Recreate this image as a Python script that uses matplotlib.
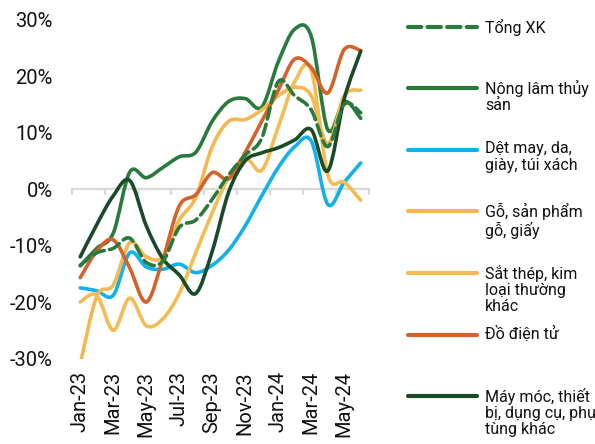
import numpy as np
import matplotlib.pyplot as plt
from matplotlib.path import Path
from matplotlib.patches import PathPatch
from matplotlib.lines import Line2D

plt.rcParams['font.family'] = ['Roboto', 'DejaVu Sans']

months = ['Jan-23', 'Feb-23', 'Mar-23', 'Apr-23', 'May-23', 'Jun-23', 'Jul-23', 'Aug-23', 'Sep-23',
          'Oct-23', 'Nov-23', 'Dec-23', 'Jan-24', 'Feb-24', 'Mar-24', 'Apr-24', 'May-24', 'Jun-24']

# tăng trưởng xuất khẩu so với cùng kỳ, %
tong_xk = [-13.5, -11.3, -10.5, -8.7, -13.0, -12.8, -6.8, -5.5, -1.8, 2.5, 6.0, 9.0,
           19.0, 16.5, 14.0, 7.5, 15.0, 13.5]
nong_lam = [-13.6, -10.5, -7.8, 3.0, 2.0, 3.8, 5.7, 6.5, 12.0, 15.5, 16.0, 14.5,
            22.5, 28.3, 27.0, 10.5, 15.5, 12.5]
det_may = [-17.5, -18.0, -18.8, -11.3, -13.8, -14.2, -13.3, -14.8, -13.5, -10.8, -6.5, -1.2,
           3.8, 7.5, 8.5, -2.7, 1.2, 4.6]
go = [-31.0, -19.0, -17.0, -9.5, -12.0, -12.0, -5.5, -1.5, 7.5, 12.0, 12.3, 14.0,
      16.5, 18.0, 16.5, 8.0, 16.5, 17.5]
sat_thep = [-20.0, -18.8, -25.0, -19.3, -24.2, -23.0, -18.5, -11.3, -4.2, 2.1, 5.5, 3.3,
            11.0, 19.0, 21.0, 2.5, 1.2, -2.0]
dien_tu = [-15.7, -11.0, -9.0, -14.0, -20.0, -12.5, -3.0, -1.0, 2.9, 1.8, 6.5, 12.0,
           17.5, 23.0, 21.5, 17.0, 24.7, 24.5]
may_moc = [-12.0, -6.3, -1.2, 1.5, -6.5, -12.3, -15.2, -18.5, -11.0, -0.5, 5.0, 6.4,
           7.3, 8.7, 10.5, 3.2, 16.0, 24.4]

labels = ['Tổng XK', 'Nông lâm thủy\nsản', 'Dệt may, da,\ngiày, túi xách', 'Gỗ, sản phẩm\ngỗ, giấy',
          'Sắt thép, kim\nloại thường\nkhác', 'Đồ điện tử', 'Máy móc, thiết\nbị, dụng cụ, phụ\ntùng khác']
series = [tong_xk, nong_lam, det_may, go, sat_thep, dien_tu, may_moc]
colors = ['#2a7a3b', '#2a7a3b', '#12b0ec', '#f5b851', '#f5bb55', '#d3622b', '#1b4a26']
styles = [(0, (3.2, 1.5)), '-', '-', '-', '-', '-', '-']
lw = 2.6


def smooth_path(vals):
    # đường cong Bezier đi qua các điểm số liệu (kiểu "smoothed line")
    pts = np.column_stack([np.arange(len(vals)), vals]).astype(float)
    n = len(pts)
    verts = [pts[0]]
    codes = [Path.MOVETO]
    for i in range(n - 1):
        p0 = pts[i - 1] if i > 0 else pts[i]
        p1, p2 = pts[i], pts[i + 1]
        p3 = pts[i + 2] if i + 2 < n else pts[i + 1]
        verts += [p1 + (p2 - p0) / 6, p2 - (p3 - p1) / 6, p2]
        codes += [Path.CURVE4] * 3
    return Path(verts, codes)


fig = plt.figure(figsize=(5.95, 4.44), dpi=100)
ax = fig.add_axes([72 / 595, 1 - 358.5 / 444, 297 / 595, 339 / 444])

# vẽ các đường, Tổng XK nằm trên cùng
order = [1, 2, 3, 4, 5, 6, 0]
for k in order:
    patch = PathPatch(smooth_path(series[k]), fill=False, edgecolor=colors[k], lw=lw,
                      linestyle=styles[k], capstyle='round', joinstyle='round', zorder=3 + (k == 0))
    ax.add_patch(patch)

ax.set_xlim(-0.5, len(months) - 0.5)
ax.set_ylim(-30, 30)
ax.set_yticks(range(-30, 31, 10))
ax.set_yticklabels([f'{v}%' for v in range(-30, 31, 10)])
ax.tick_params(axis='y', length=0, pad=14, labelsize=14.5, labelcolor='#111111')

for s in ['top', 'right', 'left']:
    ax.spines[s].set_visible(False)
ax.spines['bottom'].set_position(('data', 0))
ax.spines['bottom'].set_color('#d9d9d9')
ax.spines['bottom'].set_linewidth(1.6)
ax.set_xticks(np.arange(-0.5, len(months), 2))
ax.tick_params(axis='x', length=4, width=1.6, color='#d9d9d9', labelbottom=False)

sec = ax.secondary_xaxis('bottom')
sec.set_xticks(np.arange(0, len(months), 2))
sec.set_xticklabels(months[::2], rotation=90)
sec.tick_params(length=0, pad=9, labelsize=14.5, labelcolor='#111111')
sec.spines['bottom'].set_visible(False)

# chú thích bên phải
for k, lab in enumerate(labels):
    y = 1 - (27 + 61.5 * k) / 444
    fig.add_artist(Line2D([408 / 595, 477 / 595], [y, y], transform=fig.transFigure, color=colors[k],
                          lw=lw + 0.4, linestyle=styles[k], solid_capstyle='round', dash_capstyle='round'))
    fig.text(485 / 595, y + 8.5 / 444, lab, ha='left', va='top', fontsize=11.5, color='#111111',
             linespacing=1.12)

fig.savefig('out.png', dpi=100)
